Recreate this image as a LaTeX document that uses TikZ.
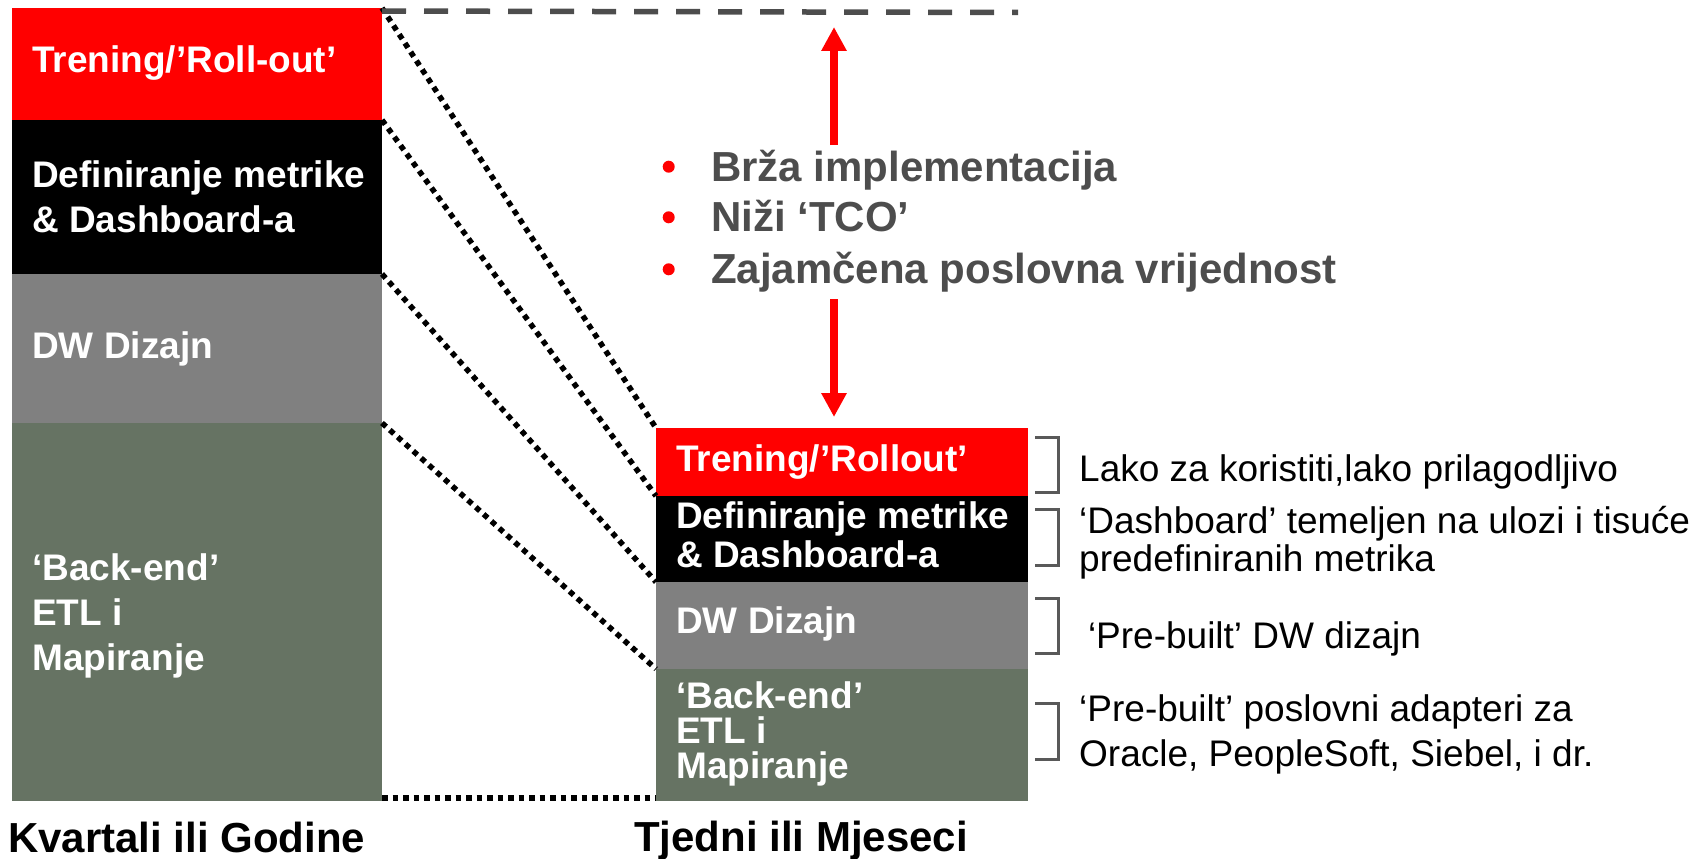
\documentclass[tikz,border=0pt]{standalone}
\usepackage{fontspec}
\setmainfont{Liberation Sans}
\usetikzlibrary{arrows.meta}
\definecolor{oRed}{RGB}{255,0,0}
\definecolor{oGray}{RGB}{128,128,128}
\definecolor{oGreen}{RGB}{102,115,99}
\definecolor{oDark}{RGB}{77,77,77}
\definecolor{oBracket}{RGB}{89,89,89}
\begin{document}
\begin{tikzpicture}[x=1pt,y=-1pt,
  box/.style={draw=none,inner sep=0pt,outer sep=0pt,anchor=north west},
  lab/.style={anchor=base west,inner sep=0pt,text=white,font=\fontsize{37}{37}\selectfont\bfseries},
  desc/.style={anchor=base west,inner sep=0pt,text=black,font=\fontsize{37}{37}\selectfont},
  mid/.style={anchor=base west,inner sep=0pt,text=oDark,font=\fontsize{42}{42}\selectfont\bfseries},
  capt/.style={anchor=base west,inner sep=0pt,text=black,font=\fontsize{42}{42}\selectfont\bfseries},
  dotline/.style={line width=5.5pt,dash pattern=on 5.5pt off 5pt,black},
  dashline/.style={line width=5.5pt,dash pattern=on 24pt off 18pt,oDark},
  bracket/.style={line width=3pt,oBracket},
  redarrow/.style={line width=8pt,oRed,-{Triangle[length=24pt,width=24pt]}}
]
\useasboundingbox (0,0) rectangle (1697,859);
% left column
\node[box,minimum width=370pt,minimum height=112pt,fill=oRed]   (L1) at (12,8) {};
\node[box,minimum width=370pt,minimum height=154pt,fill=black]  (L2) at (12,120) {};
\node[box,minimum width=370pt,minimum height=149pt,fill=oGray]  (L3) at (12,274) {};
\node[box,minimum width=370pt,minimum height=378pt,fill=oGreen] (L4) at (12,423) {};
% right column
\node[box,minimum width=372pt,minimum height=68pt,fill=oRed]    (R1) at (656,428) {};
\node[box,minimum width=372pt,minimum height=86pt,fill=black]   (R2) at (656,496) {};
\node[box,minimum width=372pt,minimum height=87pt,fill=oGray]   (R3) at (656,582) {};
\node[box,minimum width=372pt,minimum height=132pt,fill=oGreen] (R4) at (656,669) {};
% left labels
\node[lab] (l1) at (32,73) {Trening/’Roll-out’};
\node[lab] (l2a) at (32,187) {Definiranje metrike};
\node[lab] (l2b) at (32,232) {\& Dashboard-a};
\node[lab] (l3) at (32,358) {DW Dizajn};
\node[lab] (l4a) at (32,580) {‘Back-end’};
\node[lab] (l4b) at (32,625) {ETL i};
\node[lab] (l4c) at (32,670) {Mapiranje};
% right labels
\node[lab] (r1) at (676,471) {Trening/’Rollout’};
\node[lab] (r2a) at (676,528) {Definiranje metrike};
\node[lab] (r2b) at (676,567) {\& Dashboard-a};
\node[lab] (r3) at (676,633) {DW Dizajn};
\node[lab] (r4a) at (676,708) {‘Back-end’};
\node[lab] (r4b) at (676,743) {ETL i};
\node[lab] (r4c) at (676,778) {Mapiranje};
% dotted connectors
\draw[dotline] (L1.north east) -- (R1.north west);
\draw[dotline] (L2.north east) -- (R2.north west);
\draw[dotline] (L3.north east) -- (R3.north west);
\draw[dotline] (L4.north east) -- (R4.north west);
\draw[dotline] ([yshift=3pt]L4.south east) -- ([yshift=3pt]R4.south west);
% dashed top line
\coordinate (dA) at (382,11);
\coordinate (dB) at (1018,12.5);
\draw[dashline] (dA) -- (dB);
% arrows
\coordinate (u1) at (834,145);
\coordinate (u2) at (834,27);
\coordinate (w1) at (834,299);
\coordinate (w2) at (834,417);
\draw[redarrow] (u1) -- (u2);
\draw[redarrow] (w1) -- (w2);
% bullets
\fill[oRed] (668.7,166.7) circle[radius=6pt];
\fill[oRed] (668.7,217.3) circle[radius=6pt];
\fill[oRed] (668.7,269.3) circle[radius=6pt];
\node[mid] (m1) at (711,181.7) {Brža implementacija};
\node[mid] (m2) at (711,231.7) {Niži ‘TCO’};
\node[mid] (m3) at (711,283) {Zajamčena poslovna vrijednost};
% brackets
\draw[bracket] (1035,437) -- (1058.5,437) -- (1058.5,492) -- (1035,492);
\draw[bracket] (1035,509) -- (1058.5,509) -- (1058.5,565) -- (1035,565);
\draw[bracket] (1035,598) -- (1058.5,598) -- (1058.5,653) -- (1035,653);
\draw[bracket] (1035,703) -- (1058.5,703) -- (1058.5,759) -- (1035,759);
% descriptions
\node[desc] (d1) at (1079,481) {Lako za koristiti,lako prilagodljivo};
\node[desc] (d2a) at (1079,533.3) {‘Dashboard’ temeljen na ulozi i tisuće};
\node[desc] (d2b) at (1079,571.7) {predefiniranih metrika};
\node[desc] (d3) at (1087.8,648.3) {‘Pre-built’ DW dizajn};
\node[desc] (d4a) at (1079,721.7) {‘Pre-built’ poslovni adapteri za};
\node[desc] (d4b) at (1079,766.7) {Oracle, PeopleSoft, Siebel, i dr.};
% captions
\node[capt] (c1) at (8,852.7) {Kvartali ili Godine};
\node[capt] (c2) at (634,851.7) {Tjedni ili Mjeseci};
\end{tikzpicture}
\end{document}
